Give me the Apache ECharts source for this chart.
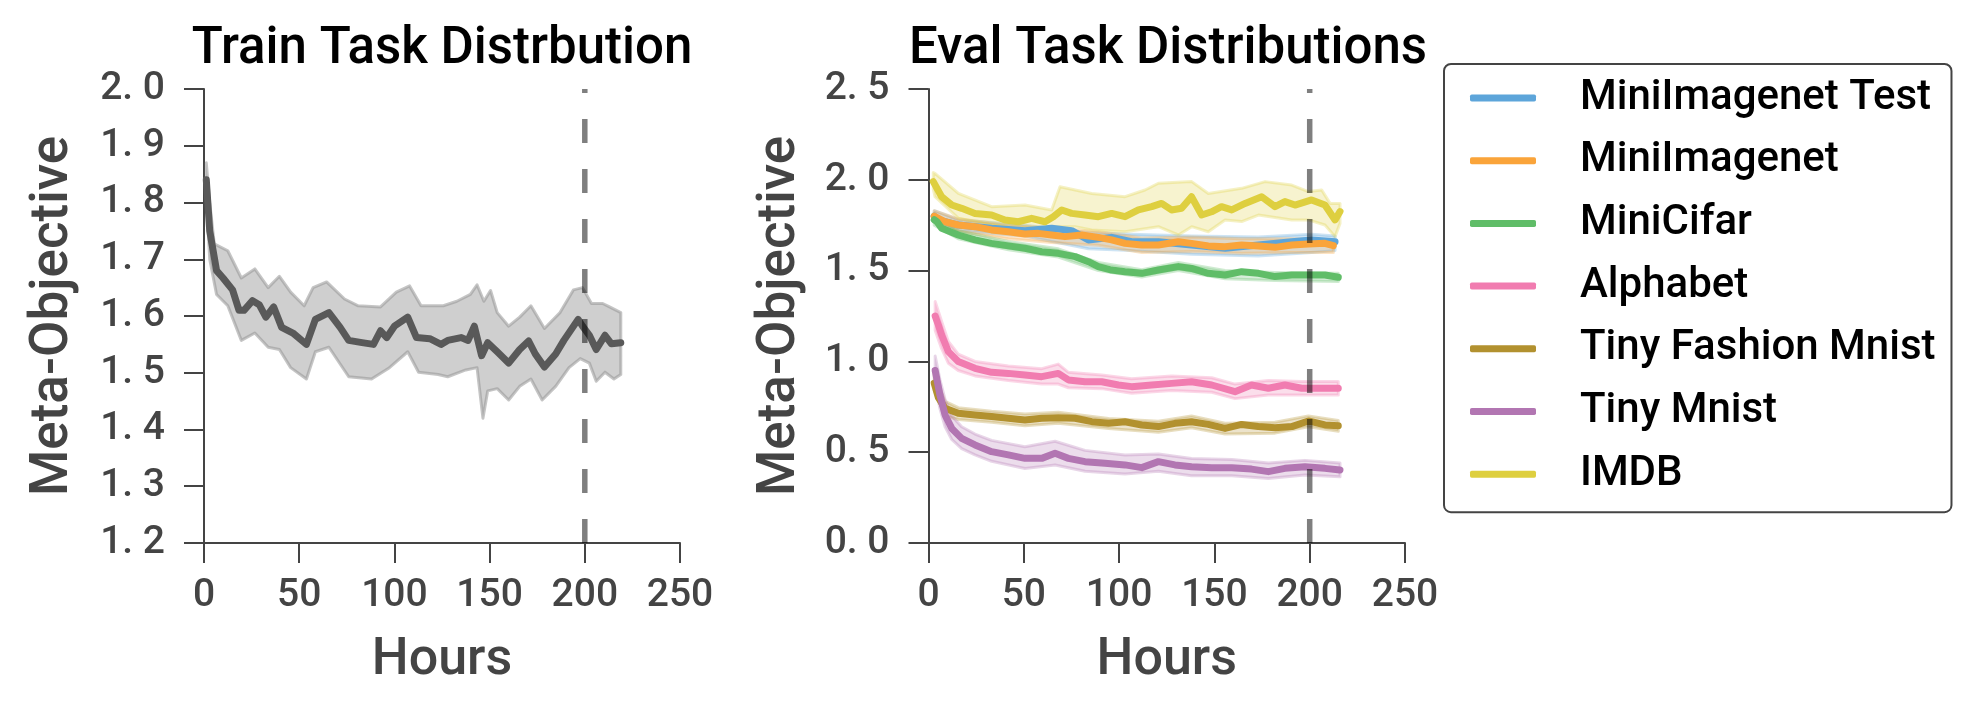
<!DOCTYPE html>
<html>
<head>
<meta charset="utf-8">
<script src="https://cdn.jsdelivr.net/npm/echarts@6/dist/echarts.min.js"></script>
<style>
  html, body { margin: 0; padding: 0; background: #fff; }
  #chart { width: 1977px; height: 720px; }
</style>
</head>
<body>
<div id="chart"></div>
<script>
// ---- Train task distribution (left panel) ----
const trainHours = [1.2, 3, 6.6, 10, 15, 18.4, 21, 25.5, 29, 32.5, 36.6, 40.8, 46.7, 53.8, 58.5, 65.6, 71.5, 76, 83, 89, 92.7, 96, 100, 107, 111.6, 118.6, 124.5, 128, 135, 138.7, 142, 145.8, 149, 154, 160, 165.8, 170.5, 174, 178.8, 184.7, 189, 196.5, 198.8, 202.4, 206, 210.6, 214, 218.9];
const trainLoss = [1.84, 1.75, 1.68, 1.667, 1.646, 1.61, 1.61, 1.627, 1.62, 1.598, 1.616, 1.58, 1.57, 1.55, 1.594, 1.606, 1.58, 1.557, 1.553, 1.55, 1.574, 1.562, 1.582, 1.598, 1.562, 1.56, 1.55, 1.557, 1.562, 1.557, 1.582, 1.53, 1.553, 1.537, 1.517, 1.541, 1.556, 1.533, 1.51, 1.533, 1.557, 1.594, 1.582, 1.566, 1.541, 1.566, 1.551, 1.553];
const trainHiHours = [1.2, 3, 5.4, 12.5, 19.6, 26.7, 33.7, 39.6, 45.5, 52.6, 57.3, 64.4, 73.8, 81, 92.7, 101, 108, 114, 125.7, 132.8, 139.9, 143.4, 147, 150.5, 154, 160, 165.8, 171.7, 178.8, 187, 194, 198.8, 203.5, 209.4, 213, 218.9];
const trainHi = [1.87, 1.80, 1.727, 1.715, 1.667, 1.683, 1.65, 1.67, 1.642, 1.618, 1.65, 1.66, 1.63, 1.618, 1.616, 1.642, 1.653, 1.618, 1.618, 1.626, 1.638, 1.655, 1.626, 1.645, 1.606, 1.582, 1.598, 1.618, 1.578, 1.606, 1.646, 1.65, 1.622, 1.622, 1.616, 1.606];
const trainLoHours = [1.2, 3, 6.6, 12.5, 19.6, 26.7, 33.7, 39.6, 45.5, 53.8, 58.5, 65.6, 76, 88, 97.4, 107, 112.7, 123, 128, 137.5, 143.4, 146.5, 149, 154, 160, 165.8, 171.7, 177.6, 184.7, 191.7, 197.6, 202.4, 206, 210.6, 215.3, 218.9];
const trainLo = [1.81, 1.70, 1.638, 1.618, 1.557, 1.57, 1.545, 1.541, 1.509, 1.489, 1.537, 1.545, 1.493, 1.489, 1.509, 1.537, 1.501, 1.497, 1.493, 1.505, 1.509, 1.42, 1.468, 1.472, 1.452, 1.476, 1.489, 1.452, 1.476, 1.509, 1.525, 1.517, 1.485, 1.501, 1.489, 1.497];

// ---- Eval task distributions (right panel) ----
const testHours = [3, 5.2, 15.6, 33.1, 50.6, 64.6, 75.1, 83.9, 96.1, 106.6, 120.6, 138, 155.6, 173, 190.6, 201, 213.3];
const testLoss = [1.80, 1.779, 1.751, 1.733, 1.72, 1.733, 1.72, 1.669, 1.683, 1.659, 1.659, 1.641, 1.623, 1.641, 1.659, 1.669, 1.659];
const testBandHours = [3, 15.6, 50.6, 83.9, 106.6, 138, 173, 201, 213.3];
const testHi = [1.83, 1.78, 1.75, 1.71, 1.70, 1.69, 1.685, 1.70, 1.69];
const testLo = [1.77, 1.72, 1.69, 1.62, 1.61, 1.59, 1.58, 1.60, 1.61];

const imgHours = [3, 5.2, 8.7, 15.6, 24.4, 33.1, 41.9, 50.6, 57.6, 64.6, 71.6, 80.4, 89.1, 96.1, 103.1, 111.9, 120.6, 131.1, 138, 146.8, 155.6, 164.3, 173.1, 181.8, 190.6, 199.3, 208, 212.4];
const imgLoss = [1.80, 1.788, 1.769, 1.751, 1.742, 1.724, 1.714, 1.702, 1.705, 1.696, 1.687, 1.696, 1.683, 1.669, 1.65, 1.641, 1.641, 1.659, 1.65, 1.636, 1.632, 1.641, 1.636, 1.628, 1.641, 1.647, 1.65, 1.637];
const imgBandHours = [3, 15.6, 41.9, 64.6, 89.1, 111.9, 138, 164.3, 190.6, 212.4];
const imgHi = [1.83, 1.785, 1.75, 1.735, 1.715, 1.68, 1.685, 1.675, 1.675, 1.67];
const imgLo = [1.77, 1.715, 1.675, 1.655, 1.64, 1.60, 1.605, 1.595, 1.60, 1.60];

const cifarHours = [3, 4.4, 6.9, 15.6, 24.4, 33.1, 41.9, 50.6, 59.4, 68.1, 76.9, 83.9, 89.1, 96.1, 103.1, 111.9, 120.6, 131.1, 138, 146.8, 155.6, 164.3, 173.1, 181.8, 190.6, 199.3, 208, 215];
const cifarLoss = [1.78, 1.77, 1.733, 1.696, 1.669, 1.65, 1.636, 1.623, 1.604, 1.595, 1.577, 1.549, 1.522, 1.503, 1.494, 1.485, 1.503, 1.522, 1.512, 1.485, 1.476, 1.494, 1.485, 1.467, 1.476, 1.476, 1.476, 1.463];
const cifarBandHours = [3, 15.6, 41.9, 68.1, 89.1, 111.9, 131.1, 155.6, 181.8, 215];
const cifarHi = [1.80, 1.72, 1.66, 1.62, 1.545, 1.505, 1.545, 1.50, 1.49, 1.485];
const cifarLo = [1.75, 1.675, 1.615, 1.575, 1.50, 1.465, 1.50, 1.455, 1.445, 1.44];

const alphaHours = [3.5, 5.2, 6.9, 10.4, 15.6, 24.4, 33.1, 41.9, 50.6, 59.4, 68.1, 73.4, 82.1, 90.9, 99.6, 106.6, 117.1, 127.6, 138, 148.6, 160.8, 169.5, 178.3, 187, 195.8, 204.5, 215];
const alphaLoss = [1.25, 1.20, 1.145, 1.054, 0.999, 0.962, 0.94, 0.934, 0.925, 0.916, 0.934, 0.898, 0.888, 0.888, 0.87, 0.861, 0.87, 0.879, 0.888, 0.87, 0.833, 0.87, 0.852, 0.87, 0.852, 0.852, 0.852];
const alphaBandHours = [3.5, 6.9, 10.4, 15.6, 24.4, 41.9, 59.4, 68.1, 73.4, 90.9, 106.6, 127.6, 148.6, 160.8, 178.3, 195.8, 215];
const alphaHi = [1.33, 1.22, 1.11, 1.04, 1.00, 0.975, 0.96, 0.985, 0.94, 0.925, 0.905, 0.92, 0.91, 0.875, 0.895, 0.89, 0.89];
const alphaLo = [1.17, 1.07, 0.99, 0.95, 0.92, 0.895, 0.875, 0.875, 0.855, 0.85, 0.825, 0.84, 0.83, 0.795, 0.815, 0.815, 0.815];

const fashionHours = [3, 5.2, 8.7, 15.6, 24.4, 33.1, 41.9, 50.6, 59.4, 68.1, 76.9, 85.7, 94.5, 103.1, 111.9, 120.6, 129.3, 138, 146.8, 155.6, 164.3, 173, 181.8, 190.6, 199.3, 208, 215];
const fashionLoss = [0.88, 0.80, 0.742, 0.714, 0.705, 0.696, 0.687, 0.677, 0.687, 0.69, 0.687, 0.668, 0.659, 0.668, 0.65, 0.641, 0.659, 0.668, 0.653, 0.631, 0.653, 0.641, 0.635, 0.641, 0.672, 0.65, 0.646];
const fashionBandHours = [3, 8.7, 15.6, 33.1, 50.6, 68.1, 94.5, 120.6, 138, 155.6, 181.8, 199.3, 215];
const fashionHi = [0.93, 0.78, 0.745, 0.725, 0.71, 0.72, 0.685, 0.67, 0.70, 0.66, 0.665, 0.70, 0.675];
const fashionLo = [0.84, 0.70, 0.68, 0.665, 0.645, 0.66, 0.63, 0.61, 0.635, 0.60, 0.605, 0.64, 0.615];

const mnistHours = [3.5, 6, 8.7, 12.2, 17.4, 24.4, 33.1, 41.9, 50.6, 59.4, 66.4, 73.4, 82.1, 92.6, 103.1, 111.9, 120.6, 129.3, 138, 148.6, 159.1, 169.5, 178.3, 187, 197.5, 208, 215.9];
const mnistLoss = [0.95, 0.815, 0.705, 0.631, 0.576, 0.54, 0.503, 0.485, 0.466, 0.466, 0.494, 0.466, 0.448, 0.439, 0.43, 0.415, 0.448, 0.43, 0.42, 0.415, 0.415, 0.407, 0.393, 0.411, 0.42, 0.411, 0.402];
const mnistBandHours = [3.5, 6, 8.7, 12.2, 17.4, 24.4, 33.1, 50.6, 66.4, 82.1, 103.1, 120.6, 138, 159.1, 178.3, 197.5, 215.9];
const mnistHi = [1.03, 0.90, 0.79, 0.70, 0.64, 0.60, 0.565, 0.53, 0.56, 0.51, 0.485, 0.49, 0.465, 0.46, 0.44, 0.455, 0.44];
const mnistLo = [0.87, 0.74, 0.64, 0.57, 0.52, 0.485, 0.45, 0.41, 0.43, 0.395, 0.38, 0.395, 0.37, 0.37, 0.355, 0.375, 0.365];

const imdbHours = [2.5, 3.4, 6.9, 12.2, 17.4, 24.4, 33.1, 40.1, 47.1, 54.1, 61.1, 65.5, 69.9, 75.1, 82.1, 89.1, 96.1, 103.1, 110.1, 117.1, 122.3, 127.5, 132.8, 138, 143.3, 148.5, 153.7, 159.1, 166.1, 174.8, 181.8, 187, 192.3, 201, 208, 213.3, 215.9];
const imdbLoss = [1.99, 1.98, 1.907, 1.861, 1.843, 1.815, 1.806, 1.779, 1.769, 1.788, 1.769, 1.797, 1.834, 1.815, 1.806, 1.797, 1.815, 1.797, 1.834, 1.852, 1.87, 1.834, 1.843, 1.907, 1.806, 1.824, 1.852, 1.834, 1.87, 1.907, 1.852, 1.88, 1.861, 1.889, 1.861, 1.779, 1.825];
const imdbHiHours = [2.5, 3.4, 15.7, 33.1, 50.6, 64.6, 69, 85.6, 103.1, 113.6, 120.6, 138.1, 146.8, 164.3, 176.6, 190.6, 199.3, 206.3, 210.7, 215.9];
const imdbHi = [2.04, 2.036, 1.925, 1.852, 1.861, 1.834, 1.962, 1.925, 1.907, 1.944, 1.981, 1.99, 1.925, 1.953, 1.99, 1.971, 1.935, 1.944, 1.87, 1.87];
const imdbLoHours = [2.5, 3.4, 15.7, 33.1, 50.6, 64.6, 76.9, 85.6, 103.1, 120.6, 131.1, 138.1, 146.8, 155.6, 164.3, 173.1, 190.6, 199.3, 208, 213.3, 215.9];
const imdbLo = [1.95, 1.907, 1.788, 1.751, 1.724, 1.742, 1.742, 1.724, 1.714, 1.742, 1.696, 1.742, 1.714, 1.779, 1.77, 1.806, 1.779, 1.779, 1.751, 1.687, 1.76];

const evalNames = ['MiniImagenet Test', 'MiniImagenet', 'MiniCifar', 'Alphabet', 'Tiny Fashion Mnist', 'Tiny Mnist', 'IMDB'];
const markerHour = 200;

const FONT = 'Roboto';
const AXIS = '#444';

const chart = echarts.init(document.getElementById('chart'));

function fade(hex, a) {
  const n = parseInt(hex.slice(1), 16);
  return 'rgba(' + (n >> 16) + ',' + ((n >> 8) & 255) + ',' + (n & 255) + ',' + a + ')';
}

// shaded spread between two edges, drawn through the axis scales
function band(idx, hiH, hi, loH, lo, fill, stroke) {
  return {
    type: 'custom', xAxisIndex: idx, yAxisIndex: idx, silent: true,
    data: [[hiH[0], hi[0]]],
    renderItem: function (params, api) {
      const pts = [];
      for (let i = 0; i < hiH.length; i++) pts.push(api.coord([hiH[i], hi[i]]));
      for (let i = loH.length - 1; i >= 0; i--) pts.push(api.coord([loH[i], lo[i]]));
      return {
        type: 'polygon', shape: { points: pts },
        style: { fill: fill, stroke: stroke, lineWidth: 3, lineJoin: 'round' }
      };
    }
  };
}

function curve(name, idx, hours, vals, color, width) {
  return {
    name: name, type: 'line', xAxisIndex: idx, yAxisIndex: idx,
    data: hours.map((h, i) => [h, vals[i]]),
    showSymbol: false, symbol: 'none', silent: true,
    lineStyle: { color: color, width: width, cap: 'round', join: 'round' },
    itemStyle: { color: color },
    emphasis: { disabled: true }
  };
}

function marker(idx, lo, hi) {
  return {
    type: 'line', xAxisIndex: idx, yAxisIndex: idx, z: 10, silent: true,
    data: [[markerHour, lo], [markerHour, hi]],
    showSymbol: false, symbol: 'none',
    lineStyle: { color: 'rgba(0,0,0,0.5)', width: 5.5, type: [24, 26] }
  };
}

function xAxisCfg(idx) {
  return {
    type: 'value', gridIndex: idx, min: 0, max: 250, interval: 50,
    axisLine: { show: true, onZero: false, lineStyle: { color: AXIS, width: 2 } },
    axisTick: { show: true, length: 20, lineStyle: { color: AXIS, width: 2 } },
    axisLabel: { fontFamily: FONT, fontSize: 39, fontWeight: 500, color: AXIS, margin: 34 },
    splitLine: { show: false },
    name: 'Hours', nameLocation: 'middle', nameGap: 92,
    nameTextStyle: { fontFamily: FONT, fontSize: 52, fontWeight: 500, color: AXIS }
  };
}

function yAxisCfg(idx, min, max, interval, gap) {
  return {
    type: 'value', gridIndex: idx, min: min, max: max, interval: interval,
    axisLine: { show: true, onZero: false, lineStyle: { color: AXIS, width: 2 } },
    axisTick: { show: true, length: 20, lineStyle: { color: AXIS, width: 2 } },
    axisLabel: {
      fontFamily: FONT, fontSize: 39, fontWeight: 500, color: AXIS, margin: 39,
      formatter: v => v.toFixed(1).replace('.', '. ')
    },
    splitLine: { show: false },
    name: 'Meta-Objective', nameLocation: 'middle', nameGap: gap, nameRotate: 90,
    nameTextStyle: { fontFamily: FONT, fontSize: 53, fontWeight: 500, color: AXIS }
  };
}

const evalSets = [
  [testHours, testLoss, testBandHours, testHi, testBandHours, testLo, '#5DA5DA'],
  [imgHours, imgLoss, imgBandHours, imgHi, imgBandHours, imgLo, '#FAA43A'],
  [cifarHours, cifarLoss, cifarBandHours, cifarHi, cifarBandHours, cifarLo, '#60BD68'],
  [alphaHours, alphaLoss, alphaBandHours, alphaHi, alphaBandHours, alphaLo, '#F17CB0'],
  [fashionHours, fashionLoss, fashionBandHours, fashionHi, fashionBandHours, fashionLo, '#B2912F'],
  [mnistHours, mnistLoss, mnistBandHours, mnistHi, mnistBandHours, mnistLo, '#B276B2'],
  [imdbHours, imdbLoss, imdbHiHours, imdbHi, imdbLoHours, imdbLo, '#DECF3F']
];

const series = [
  band(0, trainHiHours, trainHi, trainLoHours, trainLo, 'rgba(160,160,160,0.5)', 'rgba(150,150,150,0.55)'),
  curve('Train', 0, trainHours, trainLoss, '#595959', 7),
  marker(0, 1.2, 2.0)
];
evalSets.forEach((s, i) => {
  series.push(band(1, s[2], s[3], s[4], s[5], fade(s[6], 0.25), fade(s[6], 0.3)));
  series.push(curve(evalNames[i], 1, s[0], s[1], s[6], 7));
});
series.push(marker(1, 0, 2.5));

const option = {
  backgroundColor: '#fff',
  animation: false,
  grid: [
    { left: 204, top: 89, width: 476, height: 454 },
    { left: 928.5, top: 89, width: 476.5, height: 454 }
  ],
  xAxis: [xAxisCfg(0), xAxisCfg(1)],
  yAxis: [yAxisCfg(0, 1.2, 2.0, 0.1, 124), yAxisCfg(1, 0, 2.5, 0.5, 121)],
  legend: {
    data: evalNames, orient: 'vertical', left: 1444, top: 64,
    icon: 'roundRect', itemWidth: 66, itemHeight: 7, itemGap: 12.7,
    padding: [9, 16, 13, 26],
    borderColor: '#444', borderWidth: 2, borderRadius: 7,
    selectedMode: false,
    textStyle: { fontFamily: FONT, fontSize: 42, fontWeight: 500, color: '#000', lineHeight: 50, padding: [0, 0, 0, 39] }
  },
  graphic: [
    { type: 'text', x: 442, y: 50, style: { text: 'Train Task Distrbution', align: 'center', verticalAlign: 'middle', fontFamily: FONT, fontSize: 51, fontWeight: 500, fill: '#000' } },
    { type: 'text', x: 1168, y: 50, style: { text: 'Eval Task Distributions', align: 'center', verticalAlign: 'middle', fontFamily: FONT, fontSize: 51, fontWeight: 500, fill: '#000' } }
  ],
  series: series
};

chart.setOption(option);
window.addEventListener('resize', chart.resize);
</script>
</body>
</html>
